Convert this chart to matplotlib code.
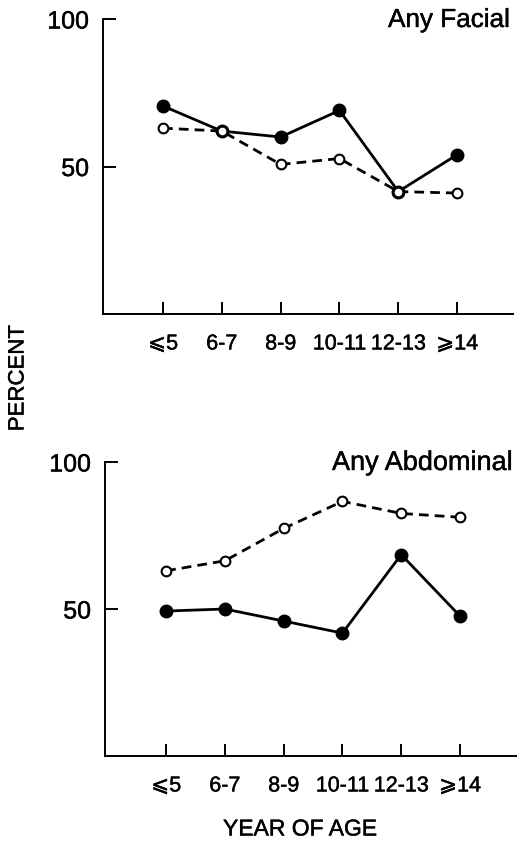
import matplotlib
matplotlib.use("Agg")
import matplotlib.pyplot as plt
import matplotlib.patheffects as pe

plt.rcParams['font.family'] = ['Liberation Sans', 'DejaVu Sans']

categories = ["⩽5", "6-7", "8-9", "10-11", "12-13", "⩾14"]
facial_solid = [70.5, 62, 60, 69, 41.5, 54]
facial_open = [63, 62, 50.7, 52.7, 41.5, 41]
abdominal_open = [63, 66.4, 77.4, 86.6, 82.5, 81.2]
abdominal_solid = [49.3, 50, 45.9, 41.8, 68.5, 47.6]
yticks = [50, 100]
titles = ["Any Facial", "Any Abdominal"]

W, H = 517, 845
fig = plt.figure(figsize=(W / 100, H / 100), dpi=100)
bold = [pe.withStroke(linewidth=0.3, foreground='black')]

def px_axes(left, right, top, bottom):
    return fig.add_axes([left / W, 1 - bottom / H, (right - left) / W, (bottom - top) / H])

ax1 = px_axes(103, 513, 20, 315)
ax2 = px_axes(105, 517, 463, 757)

x = list(range(len(categories)))

def style(ax, xl, solid, opn):
    ax.plot(x, solid, color='black', lw=2.0, marker='o', ms=9,
            mfc='black', mec='black', zorder=3)
    ax.plot(x, opn, color='black', lw=2.0, ls=(0, (3.5, 2.2)), marker='o', ms=7,
            mfc='white', mec='black', mew=1.5, zorder=4)
    ax.set_ylim(0, 100)
    ax.set_xlim(*xl)
    ax.set_yticks(yticks)
    ax.set_yticklabels([str(v) for v in yticks], fontsize=18)
    ax.set_xticks(x)
    ax.set_xticklabels(categories, fontsize=15.5)
    for lab in ax.get_xticklabels() + ax.get_yticklabels():
        lab.set_path_effects(bold)
    for s in ['top', 'right']:
        ax.spines[s].set_visible(False)
    for s in ['left', 'bottom']:
        ax.spines[s].set_linewidth(1.4)
    ax.spines['left'].set_bounds(0, 100)
    ax.tick_params(axis='y', direction='in', length=9, width=1.4, pad=10)
    ax.tick_params(axis='x', direction='in', length=9, width=1.4, pad=14)

style(ax1, (-1.02, 5.95), facial_solid, facial_open)
style(ax2, (-1.04, 5.97), abdominal_solid, abdominal_open)

fig.text(510 / W, 1 - 28 / H, titles[0], ha='right', va='baseline', fontsize=18.8, path_effects=bold)
fig.text(513 / W, 1 - 471 / H, titles[1], ha='right', va='baseline', fontsize=19.5, path_effects=bold)
fig.text(18 / W, 1 - 379 / H, "PERCENT", rotation=90, ha='center', va='center', fontsize=16, path_effects=bold)
fig.text(300 / W, 1 - 830 / H, "YEAR OF AGE", ha='center', va='center', fontsize=16.5, path_effects=bold)

fig.savefig("out.png", dpi=100, facecolor='white')
